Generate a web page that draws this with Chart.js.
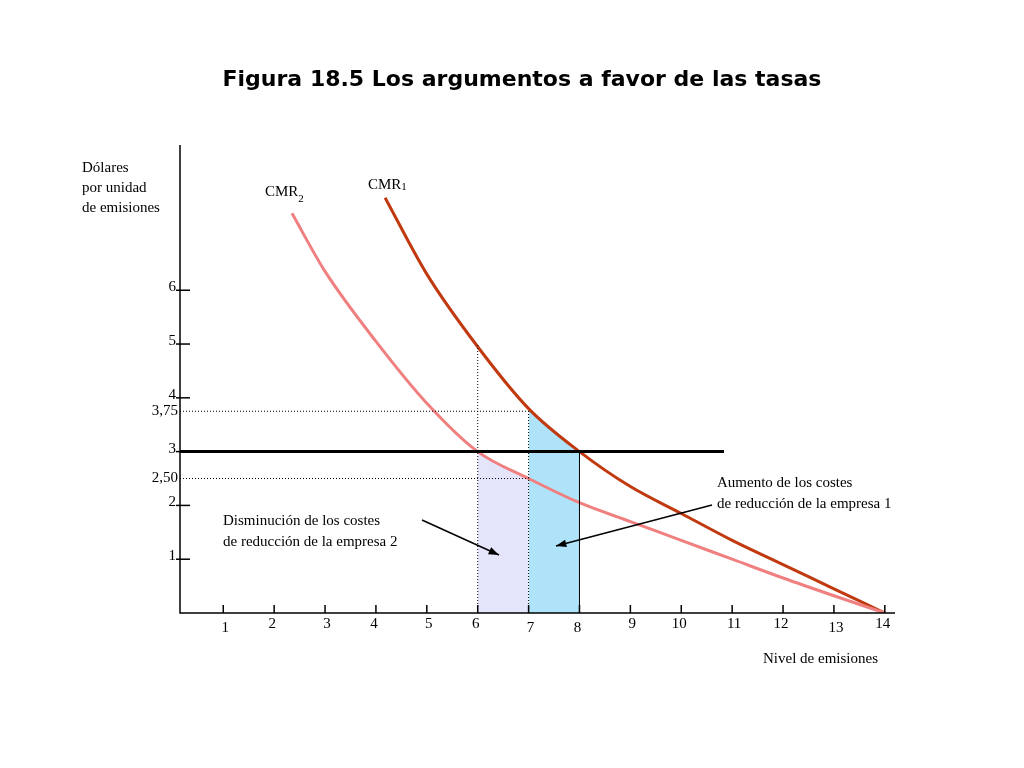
<!DOCTYPE html>
<html>
<head>
<meta charset="utf-8">
<script src="https://cdn.jsdelivr.net/npm/chart.js@4"></script>
<style>
  html, body { margin: 0; background: #fff; }
  #wrap { width: 1024px; height: 768px; }
</style>
</head>
<body>
<div id="wrap"><canvas id="c"></canvas></div>
<script>
// Data
const xTicks = [1, 2, 3, 4, 5, 6, 7, 8, 9, 10, 11, 12, 13, 14];
const yTicks = [1, 2, 3, 4, 5, 6];
const yExtraTicks = [2.5, 3.75];
const cmr1 = [[4.18, 7.72], [5, 6.3], [6, 4.95], [7, 3.8], [8, 3.0], [9, 2.35], [10, 1.85], [11, 1.35], [12, 0.9], [13, 0.45], [14, 0]];
const cmr2 = [[2.35, 7.43], [3, 6.35], [4, 5.05], [5, 3.9], [6, 3.0], [7, 2.5], [8, 2.05], [9, 1.7], [10, 1.35], [11, 1.0], [12, 0.65], [13, 0.32], [14, 0]];
const fee = 3;
const feeEnd = 10.84;
const area2 = [[6, 3.0], [6.5, 2.73], [7, 2.5]];
const area1 = [[7, 3.78], [7.5, 3.36], [8, 3.0]];

const pts = a => a.map(([x, y]) => ({ x, y }));
const serif = '"Liberation Serif", "DejaVu Serif", serif';
const dotted = { borderColor: '#000', borderWidth: 1, borderDash: [1, 2], pointRadius: 0, showLine: true, fill: false };

const overlay = {
  id: 'overlay',
  afterDraw(chart) {
    const { ctx, scales: { x, y } } = chart;
    const x0 = x.getPixelForValue(x.min), y0 = y.getPixelForValue(0);
    ctx.save();
    ctx.fillStyle = '#000';
    ctx.font = 'bold 22px "DejaVu Sans", sans-serif';
    ctx.textAlign = 'center';
    ctx.textBaseline = 'alphabetic';
    ctx.fillText('Figura 18.5 Los argumentos a favor de las tasas', 522, 86);
    ctx.strokeStyle = '#000';
    ctx.lineWidth = 1.5;
    ctx.beginPath();
    ctx.moveTo(x0, y.getPixelForValue(y.max));
    ctx.lineTo(x0, y0);
    ctx.lineTo(x.getPixelForValue(x.max), y0);
    ctx.stroke();
    ctx.font = '15px ' + serif;
    // x ticks (inward) and labels
    ctx.textBaseline = 'top';
    xTicks.forEach((v, i) => {
      const px = x.getPixelForValue(v);
      ctx.beginPath(); ctx.moveTo(px, y0); ctx.lineTo(px, y0 - 8); ctx.stroke();
      const dy = [1, 7, 8, 13].includes(v) ? 8 : 4;
      ctx.fillText(String(v), px + (i % 2 ? -2 : 2), y0 + dy);
    });
    // y ticks
    ctx.textAlign = 'right';
    ctx.textBaseline = 'middle';
    yTicks.forEach(v => {
      const py = y.getPixelForValue(v);
      ctx.beginPath(); ctx.moveTo(x0 - 4, py); ctx.lineTo(x0 + 10, py); ctx.stroke();
      ctx.fillText(String(v), x0 - 4, py - 3);
    });
    yExtraTicks.forEach(v => {
      ctx.fillText(String(v).replace('.', ',') + (v === 2.5 ? '0' : ''), x0 - 2, y.getPixelForValue(v));
    });
    // axis titles
    ctx.textAlign = 'left';
    ctx.textBaseline = 'alphabetic';
    ctx.fillText('Dólares', 82, 172);
    ctx.fillText('por unidad', 82, 192);
    ctx.fillText('de emisiones', 82, 212);
    ctx.fillText('Nivel de emisiones', 763, 663);
    // curve labels
    const w = ctx.measureText('CMR').width;
    ctx.fillText('CMR', 265, 196);
    ctx.fillText('CMR', 368, 189);
    ctx.font = '11px ' + serif;
    ctx.fillText('2', 265 + w, 202);
    ctx.fillText('1', 368 + w, 190);
    ctx.font = '15px ' + serif;
    ctx.fillText('Disminución de los costes', 223, 525);
    ctx.fillText('de reducción de la empresa 2', 223, 546);
    ctx.fillText('Aumento de los costes', 717, 487);
    ctx.fillText('de reducción de la empresa 1', 717, 508);
    // arrows
    const arrow = (ax, ay, bx, by) => {
      ctx.lineWidth = 1.5;
      ctx.beginPath(); ctx.moveTo(ax, ay); ctx.lineTo(bx, by); ctx.stroke();
      const a = Math.atan2(by - ay, bx - ax);
      ctx.beginPath();
      ctx.moveTo(bx, by);
      ctx.lineTo(bx - 11 * Math.cos(a - 0.35), by - 11 * Math.sin(a - 0.35));
      ctx.lineTo(bx - 11 * Math.cos(a + 0.35), by - 11 * Math.sin(a + 0.35));
      ctx.closePath(); ctx.fill();
    };
    arrow(422, 520, 499, 555);
    arrow(712, 505, 556, 546);
    ctx.restore();
  }
};

new Chart(document.getElementById('c'), {
  type: 'scatter',
  data: {
    datasets: [
      { data: pts(area2), showLine: true, pointRadius: 0, borderWidth: 0, backgroundColor: '#e4e4fb', fill: 'origin', order: 10 },
      { data: pts(area1), showLine: true, pointRadius: 0, borderWidth: 0, backgroundColor: '#aee3f9', fill: 'origin', order: 10 },
      { ...dotted, data: [{ x: 0.15, y: 3.75 }, { x: 7, y: 3.75 }] },
      { ...dotted, data: [{ x: 0.15, y: 2.5 }, { x: 7, y: 2.5 }] },
      { ...dotted, data: [{ x: 6, y: 0 }, { x: 6, y: 5 }] },
      { ...dotted, data: [{ x: 7, y: 0 }, { x: 7, y: 3.78 }] },
      { ...dotted, borderDash: [], data: [{ x: 8, y: 0 }, { x: 8, y: 3 }] },
      { data: [{ x: 0.15, y: fee }, { x: feeEnd, y: fee }], showLine: true, pointRadius: 0, borderColor: '#000', borderWidth: 3 },
      { data: pts(cmr2), showLine: true, pointRadius: 0, borderColor: '#f08080', borderWidth: 3, cubicInterpolationMode: 'monotone' },
      { data: pts(cmr1), showLine: true, pointRadius: 0, borderColor: '#c0390f', borderWidth: 3, cubicInterpolationMode: 'monotone' }
    ]
  },
  options: {
    responsive: true,
    maintainAspectRatio: false,
    animation: false,
    layout: { padding: { left: 180, right: 129, top: 145, bottom: 155 } },
    plugins: { legend: { display: false }, tooltip: { enabled: false } },
    scales: {
      x: { type: 'linear', min: 0.15, max: 14.2, display: false },
      y: { type: 'linear', min: 0, max: 8.7, display: false }
    }
  },
  plugins: [overlay]
});
</script>
</body>
</html>
